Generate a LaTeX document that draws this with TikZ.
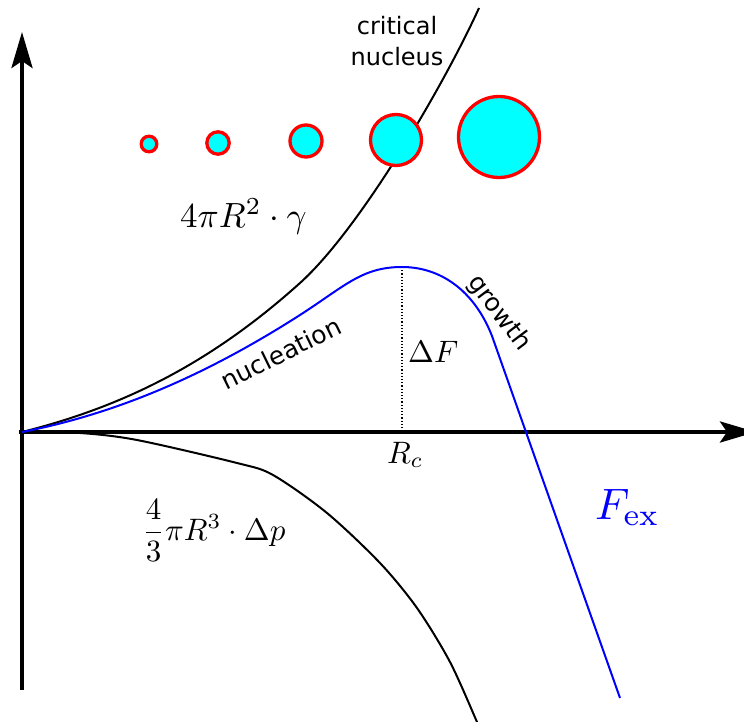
\documentclass[tikz,border=0pt]{standalone}
\usepackage{amsmath}
\usepackage{graphicx}
\usepackage{fontspec}
\newfontfamily\labelsans{DejaVu Sans}
\usetikzlibrary{arrows.meta}
\definecolor{aqua}{RGB}{0,255,255}
\definecolor{bubbleline}{RGB}{255,0,0}
\definecolor{fblue}{RGB}{0,0,255}
\newcommand{\mathsized}[2]{\scalebox{#1}{#2}}
\begin{document}
\begin{tikzpicture}[x=1pt,y=-1pt,
  axis/.style={line width=4pt,-{Stealth[length=36pt,width=21pt,inset=7pt]}},
  curve/.style={line width=2pt,black},
  fcurve/.style={line width=2pt,fblue},
  bubble/.style={circle,draw=bubbleline,fill=aqua,line width=3.3pt,inner sep=0pt},
  sanslabel/.style={font=\labelsans\fontsize{24}{30}\selectfont,inner sep=0pt},
  mathlabel/.style={inner sep=0pt,anchor=base west}]
\useasboundingbox (0,0) rectangle (744,722);
\clip (0,0) rectangle (744,722);
% axes
\coordinate (O) at (22,432);
\coordinate (ytip) at (22,32);
\coordinate (ybot) at (22,690);
\coordinate (xstart) at (19,432);
\coordinate (xtip) at (756,432);
\draw[axis] (ybot) -- (ytip);
\draw[axis] (xstart) -- (xtip);
% surface term
\coordinate (s1) at (300,283);
\coordinate (s2) at (479,8);
\draw[curve] (O) .. controls (122,407) and (210,364) .. (s1)
  .. controls (360,229) and (444,85) .. (s2);
% volume term
\draw[curve] plot[smooth] coordinates {(22,432) (80,433) (137,440) (237,463) (273,475) (327,513) (380,563) (417,608) (450,662) (477,722) (480,730)};
% critical radius
\coordinate (peak) at (402,267);
\coordinate (Rcx) at (402,432);
\draw[dotted,line width=1.2pt] (peak) -- (Rcx);
% free energy
\coordinate (f1) at (300,315);
\coordinate (f2) at (492,336);
\coordinate (f3) at (620,698);
\draw[fcurve] (O) .. controls (120,413) and (210,372.6) .. (f1)
  .. controls (345,286) and (362,267) .. (peak)
  .. controls (440,267) and (474,290) .. (f2) -- (f3);
% bubbles
\node[bubble,minimum size=15.6pt] (c1) at (149,144) {};
\node[bubble,minimum size=22.4pt] (c2) at (218,143) {};
\node[bubble,minimum size=32pt] (c3) at (306,141) {};
\node[bubble,minimum size=51pt] (c4) at (396,140) {};
\node[bubble,minimum size=81pt] (c5) at (499,137) {};
% labels
\node[sanslabel,anchor=base] (crit1) at (397,35) {critical};
\node[sanslabel,anchor=base] (crit2) at (397,66) {nucleus};
\node[sanslabel,rotate=26,font=\labelsans\fontsize{25}{30}\selectfont] (nuc) at (281,353) {nucleation};
\node[sanslabel,rotate=-53,font=\labelsans\fontsize{25}{30}\selectfont] (gro) at (499,313) {growth};
\node[mathlabel] (surf) at (180,227) {\mathsized{3.5}{$4\pi R^2\cdot\gamma$}};
\node[mathlabel] (dF) at (408,362) {\mathsized{3.1}{$\Delta F$}};
\node[mathlabel] (Rc) at (387,463) {\mathsized{3.1}{$R_c$}};
\node[mathlabel] (vol) at (142,540) {\mathsized{3.1}{$\dfrac{4}{3}\pi R^3\cdot\Delta p$}};
\node[mathlabel,text=fblue] (Fex) at (595,519) {\mathsized{4.4}{$F_{\mathrm{ex}}$}};
\end{tikzpicture}
\end{document}
